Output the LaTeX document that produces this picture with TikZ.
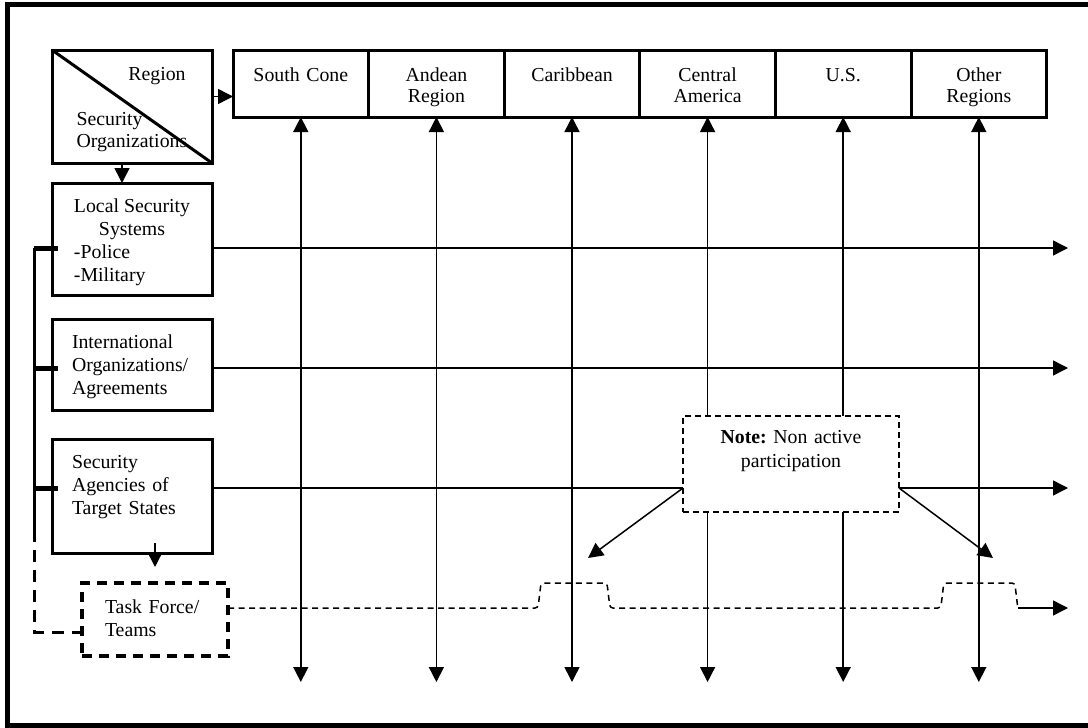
\documentclass[tikz,border=0pt]{standalone}
\usepackage{fontspec}
\setmainfont{Liberation Serif}
\usetikzlibrary{positioning,arrows.meta,calc}
\frenchspacing

\begin{document}
\begin{tikzpicture}[x=1pt, y=-1pt,
  font=\fontsize{19.8}{23}\selectfont,
  box/.style = {draw, line width=3pt, inner sep=0pt, outer sep=0pt},
  top/.style = {box, minimum width=135.6pt, minimum height=67pt, text height=31pt, text depth=36pt, text width=135.6pt, align=center, font=\fontsize{19.8}{21.5}\selectfont},
  side/.style = {box, minimum width=160pt},
  arr/.style = {line width=1.5pt, -{Triangle[length=15pt,width=15pt]}},
  dbl/.style = {line width=1.5pt, {Triangle[length=15pt,width=15pt]}-{Triangle[length=15pt,width=15pt]}},
  brk/.style = {line width=3pt},
  stub/.style = {line width=5pt},
  thindash/.style = {line width=1.5pt, dash pattern=on 6pt off 4.5pt}]
  \useasboundingbox (0,0) rectangle (1088,728);
  % frame (open at the right)
  \draw[line width=5pt] (1095,4.5) -- (7.5,4.5) -- (7.5,725) -- (1095,725);

  % corner box
  \node[side, minimum height=113pt] (rg) at (132,106.5) {};
  \draw[line width=3pt] (rg.north west) -- (rg.south east);
  \node[anchor=base] (rgr) at (157,80) {Region};
  \node[anchor=base west, text width=130pt, align=left, font=\fontsize{19.8}{22}\selectfont] (rgs) at (73,125) {Security\\Organizations};

  % regions
  \node[top, below right=0pt and 21pt of rg.north east] (sc) {South Cone};
  \node[top, right=0pt of sc] (ab) {Andean\\Region};
  \node[top, right=0pt of ab] (cb) {Caribbean};
  \node[top, right=0pt of cb] (ca) {Central\\America};
  \node[top, right=0pt of ca] (us) {U.S.};
  \node[top, right=0pt of us] (ot) {Other\\Regions};

  % security organizations
  \node[side, minimum height=112pt, text height=29pt, text depth=83pt, below=20pt of rg] (loc)
    {\begin{tabular}[t]{@{}l@{}}\multicolumn{1}{@{}c@{}}{Local Security}\\\multicolumn{1}{@{}c@{}}{Systems}\\-Police\\-Military\end{tabular}};
  \node[side, minimum height=91pt, text height=29pt, text depth=62pt, text width=120pt, align=left, below=24pt of loc] (int)
    {International\\Organizations/\\Agreements};
  \node[side, minimum height=114pt, text height=29pt, text depth=85pt, text width=120pt, align=left, below=29pt of int] (sag)
    {Security\\Agencies of\\Target States};
  \node[box, line width=3.5pt, dash pattern=on 10pt off 7pt, minimum width=146pt, minimum height=73pt, text height=30pt, text depth=43pt,
    text width=100pt, align=left, anchor=north west] (tf) at ([xshift=30pt,yshift=-30pt]sag.south west) {Task Force/\\Teams};

  % note
  \node[box, line width=2pt, dash pattern=on 6pt off 4pt, minimum width=216pt, minimum height=96pt, text height=27pt, text depth=69pt,
    text width=216pt, align=center, font=\fontsize{19.8}{24}\selectfont] (note) at (791,464) {\textbf{Note:} Non active\\participation};

  \coordinate (rx) at (1068,0);
  \coordinate (bot) at (0,682);
  \coordinate (bx) at (34,0);
  \coordinate (bd) at (34,530);
  \coordinate (dl) at (588,558);
  \coordinate (dr) at (993,558);
  \coordinate (h1) at ([yshift=-9pt]loc.west);
  \coordinate (h2) at ([yshift=-3.5pt]int.west);
  \coordinate (h3) at ([yshift=8pt]sag.west);
  \coordinate (h4) at ([yshift=-12.5pt]tf.west);
  \coordinate (t0) at ([yshift=11.5pt]tf.east);
  \coordinate (r1) at ([yshift=10pt]rg.east);
  \coordinate (q) at ([yshift=10pt]sag.south);

  \draw[arr] (r1) -- (r1 -| sc.west);
  \draw[arr] ([xshift=-10pt]rg.south) -- ([xshift=-10pt]loc.north);
  \draw[arr] (q -| tf.north) -- ([yshift=16pt]tf.north);

  % columns
  \foreach \n in {sc,ab,cb,ot}
    \draw[dbl] (\n.south) -- (\n.south |- bot);
  \foreach \n in {ca,us} {
    \draw[arr] (\n.south |- note.north) -- (\n.south);
    \draw[arr] (\n.south |- note.south) -- (\n.south |- bot);
  }

  % rows
  \draw[arr] (h1 -| loc.east) -- (h1 -| rx);
  \draw[arr] (h2 -| int.east) -- (h2 -| rx);
  \draw[line width=1.5pt] (h3 -| sag.east) -- (h3 -| note.west);
  \draw[arr] (h3 -| note.east) -- (h3 -| rx);
  \draw[arr] (h3 -| note.west) -- (dl);
  \draw[arr] (h3 -| note.east) -- (dr);
  \draw[thindash, rounded corners=3pt] (t0) -- ($(t0 -| cb.south)+(-34,0)$) -- ++(3,-25) -- ++(66,0) -- ++(3,25)
    -- ($(t0 -| ot.south)+(-38,0)$) -- ++(3,-25) -- ++(71,0) -- ++(3,25) coordinate (t1);
  \draw[arr] (t1) -- (t1 -| rx);

  % bracket
  \draw[brk] (bx |- h1) -- (bd);
  \draw[brk, dash pattern=on 12pt off 8pt] (bd) -- (bx |- h4) -- (h4);
  \foreach \h in {h1,h2,h3}
    \draw[stub] (bx |- \h) -- ([xshift=6pt]\h);
\end{tikzpicture}
\end{document}
